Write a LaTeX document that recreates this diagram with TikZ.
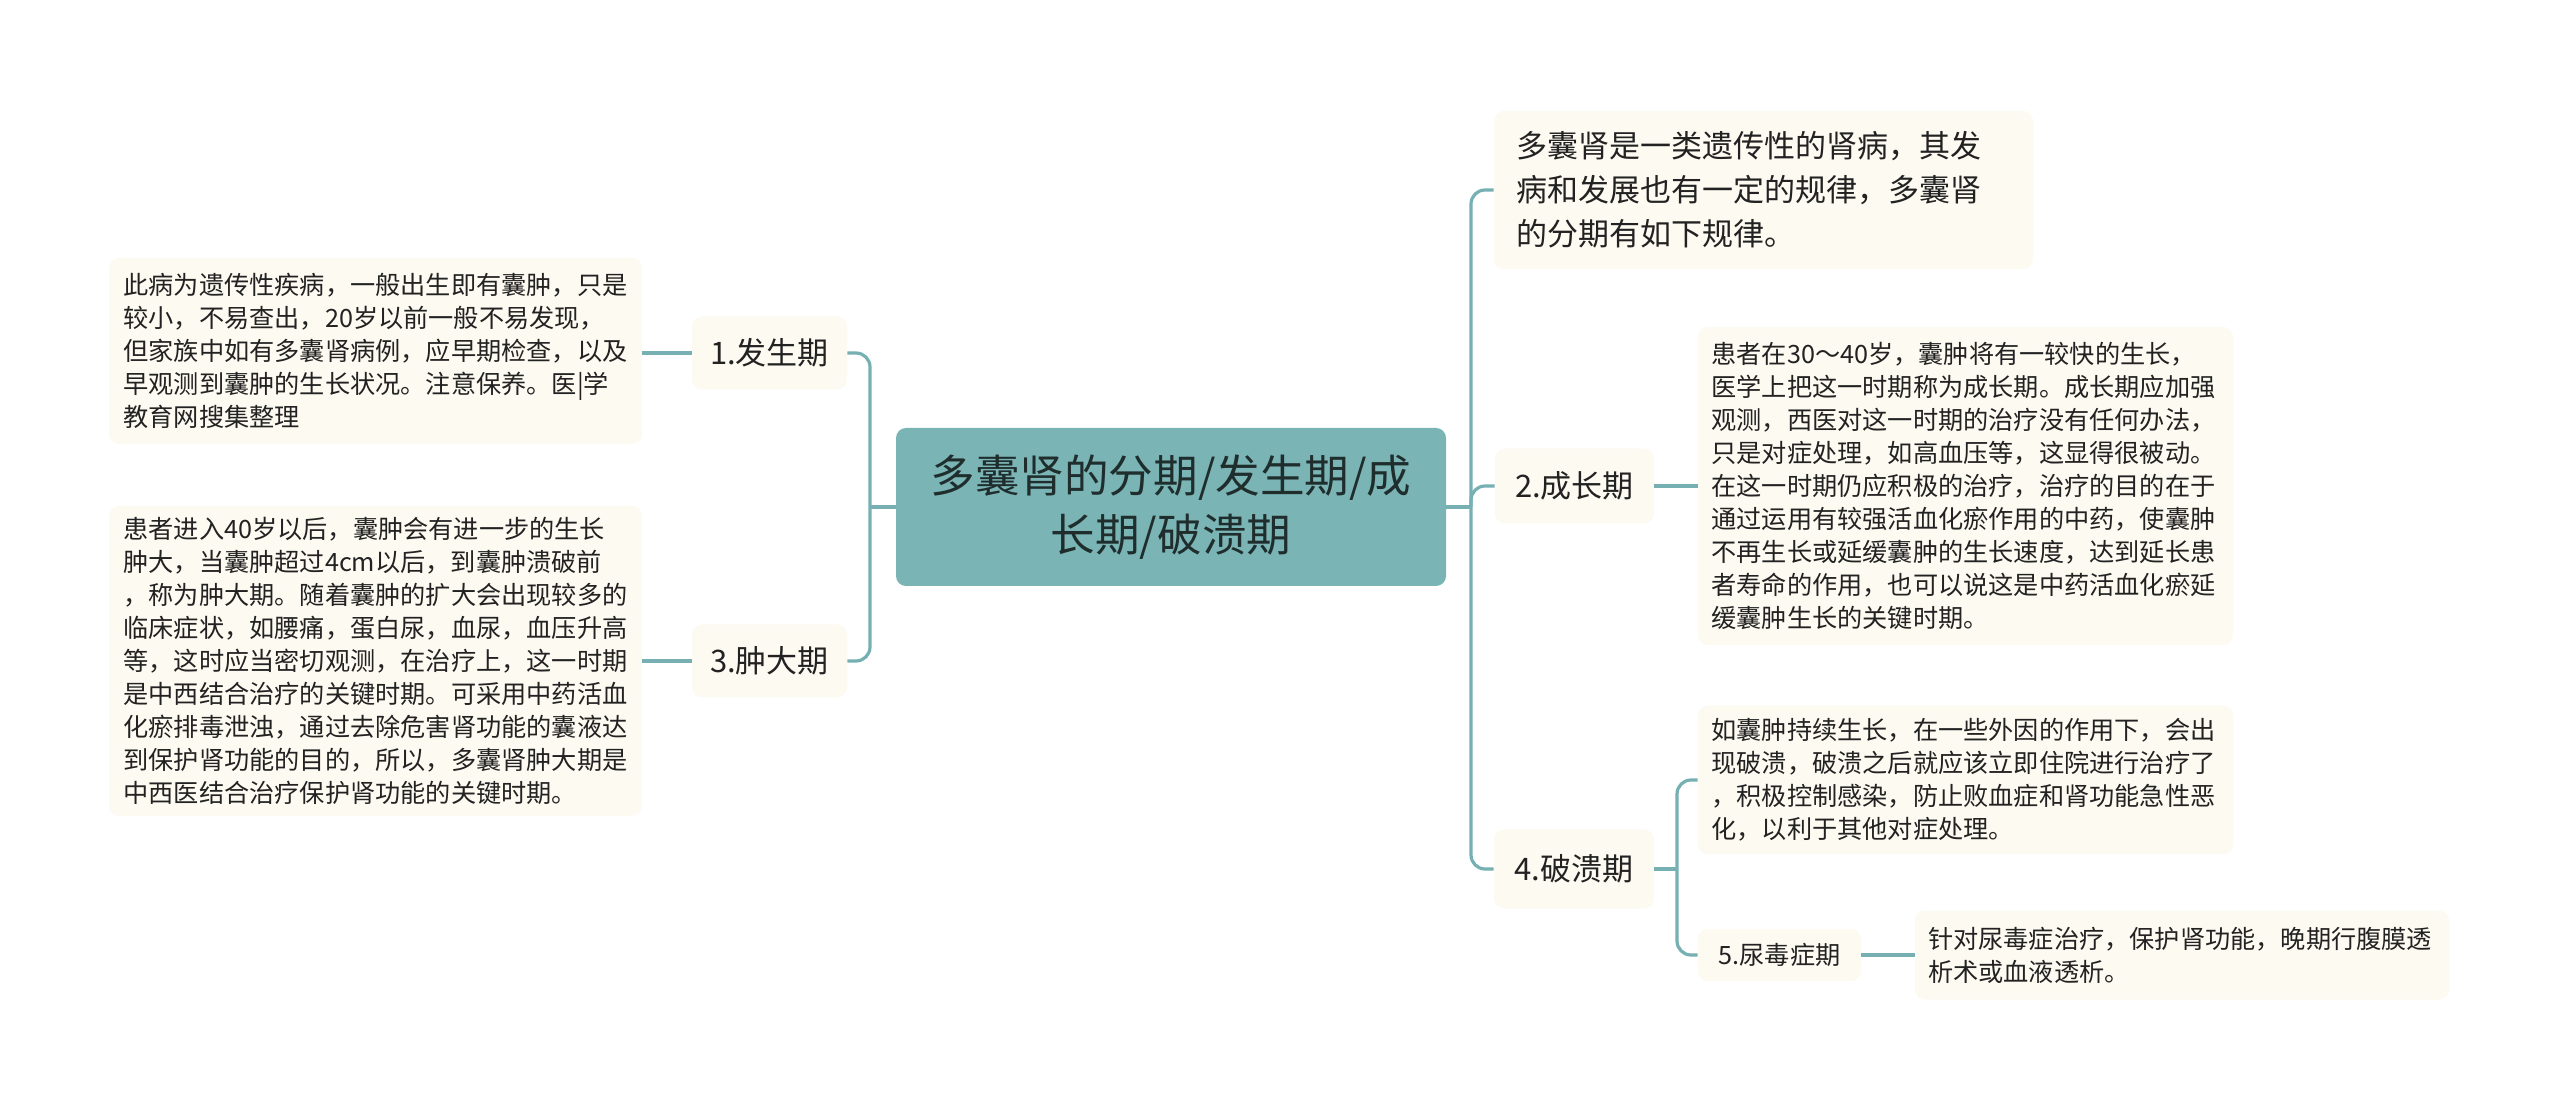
\documentclass[tikz,border=0pt]{standalone}
\usepackage{fontspec}
\setmainfont{Noto Sans CJK SC}
\definecolor{lineC}{HTML}{76B0B3}
\definecolor{rootC}{HTML}{7AB4B5}
\definecolor{boxC}{HTML}{FCFAF1}
\definecolor{txtC}{HTML}{222222}
\definecolor{rootT}{HTML}{1F2D2D}
\begin{document}
\begin{tikzpicture}[x=0.5pt,y=-0.5pt,
  conn/.style={draw=lineC, line width=1.6pt},
  rc/.style={rounded corners=7pt},
  box/.style={fill=boxC, rounded corners=5pt, inner sep=0pt, text=txtC},
  para/.style={box, align=left, font=\fontsize{12.6}{16.5}\selectfont},
  lab/.style={box, align=center, font=\fontsize{15.5}{18}\selectfont},
]
\path[use as bounding box, fill=white] (0,0) rectangle (2560,1111);

% root
\node[fill=rootC, rounded corners=5pt, text=rootT, align=center,
  minimum width=275pt, minimum height=79pt, inner sep=0pt,
  font=\fontsize{22.3}{29.5}\selectfont] (c) at (1171,507)
  {多囊肾的分期/发生期/成\\长期/破溃期};

% left side
\node[lab, minimum width=77.5pt, minimum height=36.5pt] (n1) at (769.5,353) {1.发生期};
\node[lab, minimum width=77.5pt, minimum height=36.5pt] (n3) at (769.5,661) {3.肿大期};
\node[para, text width=252pt, inner xsep=7.25pt, minimum height=93pt] (t1) at (375.5,351)
{此病为遗传性疾病，一般出生即有囊肿，只是\\较小，不易查出，20岁以前一般不易发现，\\但家族中如有多囊肾病例，应早期检查，以及\\早观测到囊肿的生长状况。注意保养。医|学\\教育网搜集整理};
\node[para, text width=252pt, inner xsep=7.25pt, minimum height=155pt] (t3) at (375.5,661)
{患者进入40岁以后，囊肿会有进一步的生长\\肿大，当囊肿超过4cm以后，到囊肿溃破前\\，称为肿大期。随着囊肿的扩大会出现较多的\\临床症状，如腰痛，蛋白尿，血尿，血压升高\\等，这时应当密切观测，在治疗上，这一时期\\是中西结合治疗的关键时期。可采用中药活血\\化瘀排毒泄浊，通过去除危害肾功能的囊液达\\到保护肾功能的目的，所以，多囊肾肿大期是\\中西医结合治疗保护肾功能的关键时期。};

% right side
\node[box, align=left, text width=247.5pt, inner xsep=11pt, minimum height=79pt,
  font=\fontsize{15.5}{22}\selectfont] (tr) at (1763.5,190)
{多囊肾是一类遗传性的肾病，其发\\病和发展也有一定的规律，多囊肾\\的分期有如下规律。};
\node[lab, minimum width=79.5pt, minimum height=37.5pt] (n2) at (1574.5,486) {2.成长期};
\node[para, text width=254pt, inner xsep=6.75pt, minimum height=159pt] (t2) at (1965.5,486)
{患者在30～40岁，囊肿将有一较快的生长，\\医学上把这一时期称为成长期。成长期应加强\\观测，西医对这一时期的治疗没有任何办法，\\只是对症处理，如高血压等，这显得很被动。\\在这一时期仍应积极的治疗，治疗的目的在于\\通过运用有较强活血化瘀作用的中药，使囊肿\\不再生长或延缓囊肿的生长速度，达到延长患\\者寿命的作用，也可以说这是中药活血化瘀延\\缓囊肿生长的关键时期。};
\node[lab, minimum width=80pt, minimum height=39.5pt] (n4) at (1574,869) {4.破溃期};
\node[para, text width=254pt, inner xsep=6.75pt, minimum height=74.5pt] (t4) at (1965.5,780)
{如囊肿持续生长，在一些外因的作用下，会出\\现破溃，破溃之后就应该立即住院进行治疗了\\，积极控制感染，防止败血症和肾功能急性恶\\化，以利于其他对症处理。};
\node[box, minimum width=81.5pt, minimum height=26pt, font=\fontsize{12.6}{15}\selectfont] (n5) at (1779.5,955) {5.尿毒症期};
\node[para, text width=254pt, inner xsep=6.5pt, minimum height=44.5pt] (t5) at (2182,955)
{针对尿毒症治疗，保护肾功能，晚期行腹膜透\\析术或血液透析。};

% connectors
\coordinate (jl) at (870,507);
\coordinate (jr) at (1471,507);
\coordinate (j4) at (1677,869);
\draw[conn] (c.west) -- (jl);
\draw[conn, rc] (jl) |- (n1.east);
\draw[conn, rc] (jl) |- (n3.east);
\draw[conn] (n1.west) -- (n1.west -| t1.east);
\draw[conn] (n3.west) -- (n3.west -| t3.east);
\draw[conn] (c.east) -- (jr);
\draw[conn, rc] (jr) |- (tr.west);
\draw[conn, rc] (jr) |- (n2.west);
\draw[conn, rc] (jr) |- (n4.west);
\draw[conn] (n2.east) -- (n2.east -| t2.west);
\draw[conn] (n4.east) -- (j4);
\draw[conn, rc] (j4) |- (t4.west);
\draw[conn, rc] (j4) |- (n5.west);
\draw[conn] (n5.east) -- (n5.east -| t5.west);
\end{tikzpicture}
\end{document}
